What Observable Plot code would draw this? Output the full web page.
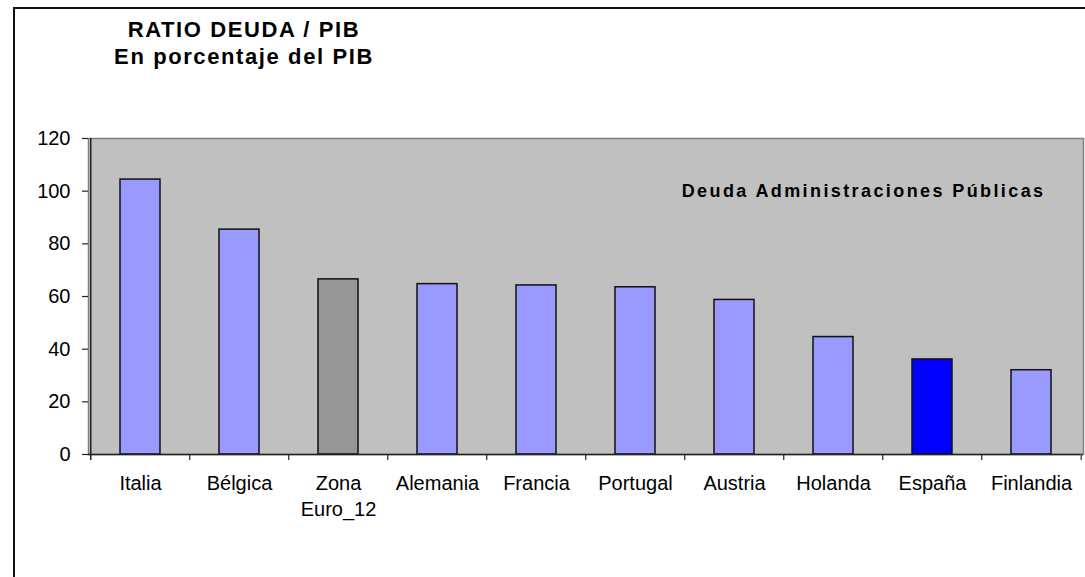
<!DOCTYPE html>
<html>
<head>
<meta charset="utf-8">
<script src="https://cdn.jsdelivr.net/npm/d3@7"></script>
<script src="https://cdn.jsdelivr.net/npm/@observablehq/plot@0.6"></script>
<style>
  html, body { margin: 0; padding: 0; background: #fff; }
  #wrap { position: relative; width: 1085px; height: 577px; overflow: hidden; font-family: Arial, "Liberation Sans", sans-serif; }
  #border { position: absolute; left: 13px; top: 7px; right: -10px; bottom: -10px; border-left: 2px solid #111; border-top: 2px solid #111; }
  .title { position: absolute; left: 0; width: 488px; text-align: center; font-weight: bold; font-size: 22px; line-height: 22px; letter-spacing: 1.6px; color: #000; white-space: nowrap; }
  #chart { position: absolute; left: 0; top: 0; }
</style>
</head>
<body>
<div id="wrap">
  <div id="border"></div>
  <div class="title" style="top:19px">RATIO DEUDA / PIB</div>
  <div class="title" style="top:46px">En porcentaje del PIB</div>
  <div id="chart"></div>
</div>
<script>
const categories = ["Italia", "Bélgica", "Zona Euro_12", "Alemania", "Francia", "Portugal", "Austria", "Holanda", "España", "Finlandia"];
const values = [104.4, 85.4, 66.5, 64.7, 64.2, 63.5, 58.7, 44.6, 36.1, 32.0];
const barColors = ["#9999FF", "#9999FF", "#969696", "#9999FF", "#9999FF", "#9999FF", "#9999FF", "#9999FF", "#0000FF", "#9999FF"];
const yTicks = [0, 20, 40, 60, 80, 100, 120];
const seriesLabel = "Deuda Administraciones Públicas";

const data = categories.map((c, i) => ({category: c, value: values[i], color: barColors[i]}));

const W = 1085, H = 577, ML = 88, MR = 2, MT = 138, MB = 123;
const step = (W - ML - MR) / categories.length;

const chart = Plot.plot({
  width: W,
  height: H,
  marginLeft: ML,
  marginRight: MR,
  marginTop: MT,
  marginBottom: MB,
  style: {fontFamily: "Arial, 'Liberation Sans', sans-serif", fontSize: "20px", color: "#000", background: "transparent", overflow: "visible"},
  x: {domain: categories, paddingInner: 0.6, paddingOuter: 0.3, label: null},
  y: {domain: [0, 120], label: null},
  marks: [
    Plot.frame({fill: "#C0C0C0", stroke: "#808080", strokeWidth: 1.5}),
    Plot.barY(data, {x: "category", y: "value", fill: "color", stroke: "#111", strokeWidth: 1.5}),
    Plot.ruleY([0], {stroke: "#222", strokeWidth: 1.5}),
    Plot.ruleX([categories[0]], {stroke: "#222", strokeWidth: 1.5, dx: -step / 2, insetBottom: -6}),
    Plot.ruleX(categories.slice(1), {x: d => d, y1: 0, y2: 0, insetBottom: -6, dx: -step / 2, stroke: "#222", strokeWidth: 1.2}),
    Plot.ruleX([categories[categories.length - 1]], {x: d => d, y1: 0, y2: 0, insetBottom: -6, dx: step / 2, stroke: "#555", strokeWidth: 1.5}),
    Plot.axisY({ticks: yTicks, tickSize: 6, tickPadding: 12, stroke: "#222", strokeWidth: 1.2, fill: "#000", fontSize: 20}),
    Plot.axisX({tickSize: 0, tickPadding: 17, fill: "#000", fontSize: 20, lineHeight: 1.3, tickFormat: d => d.replace(" ", "\n")}),
    Plot.text([seriesLabel], {frameAnchor: "top-right", textAnchor: "end", lineAnchor: "middle", dx: -38, dy: 53, fontWeight: "bold", fontSize: 18, fill: "#000"})
  ]
});
// letter spacing for the series label
chart.querySelectorAll("text").forEach(t => { if (t.textContent === seriesLabel) t.setAttribute("letter-spacing", "2.4px"); });
document.getElementById("chart").appendChild(chart);
</script>
</body>
</html>
